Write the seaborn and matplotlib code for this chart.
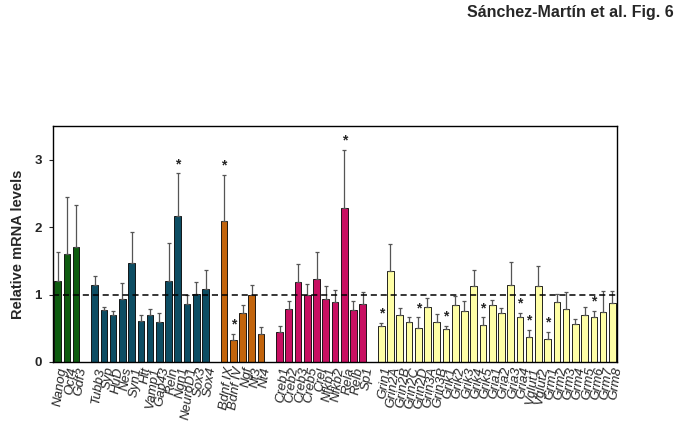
import matplotlib
matplotlib.use("Agg")
import matplotlib.pyplot as plt
import seaborn as sns
import pandas as pd
import numpy as np

sns.set_style("ticks")
plt.rcParams['font.family'] = ['Liberation Sans', 'DejaVu Sans']

# ---- data ----
pluri_genes = ["Nanog", "Oct4", "Gdf3"]
pluri_vals = [1.20, 1.60, 1.70]
pluri_err = [0.43, 0.84, 0.63]
pluri_sig = [False, False, False]

neuro_genes = ["Tubb3", "Syp", "HuD", "Nes", "Syn1", "Htt", "Vamp1", "Gap43",
               "Reln", "Ngn1", "NeuroD1", "Sox3", "Sox4"]
neuro_vals = [1.14, 0.77, 0.70, 0.94, 1.47, 0.61, 0.70, 0.60, 1.20, 2.16, 0.86, 1.01, 1.09]
neuro_err = [0.13, 0.04, 0.06, 0.23, 0.46, 0.09, 0.09, 0.12, 0.56, 0.64, 0.13, 0.17, 0.28]
neuro_sig = [False]*9 + [True] + [False]*3

nt_genes = ["Bdnf IX", "Bdnf IV", "Ngf", "Nt3", "Nt4"]
nt_vals = [2.09, 0.32, 0.73, 1.00, 0.41]
nt_err = [0.69, 0.10, 0.12, 0.14, 0.11]
nt_sig = [True, True, False, False, False]

tf_genes = ["Creb1", "Creb2", "Creb3", "Creb5", "Crel", "Nfkb1", "Nfkb2", "Rela", "Relb", "Sp1"]
tf_vals = [0.44, 0.79, 1.18, 1.00, 1.23, 0.93, 0.89, 2.29, 0.77, 0.86]
tf_err = [0.09, 0.12, 0.27, 0.16, 0.40, 0.20, 0.18, 0.86, 0.14, 0.18]
tf_sig = [False]*7 + [True] + [False]*2

glu_genes = ["Grin1", "Grin2A", "Grin2B", "Grin2C", "Grin2D", "Grin3A", "Grin3B",
             "Grik1", "Grik2", "Grik3", "Grik4", "Grik5",
             "Gria1", "Gria2", "Gria3", "Gria4", "Vglut1", "Vglut2",
             "Grm1", "Grm2", "Grm3", "Grm4", "Grm5", "Grm6", "Grm7", "Grm8"]
glu_vals = [0.53, 1.35, 0.70, 0.59, 0.50, 0.81, 0.60,
            0.49, 0.84, 0.76, 1.12, 0.55,
            0.84, 0.73, 1.14, 0.67, 0.37, 1.12,
            0.34, 0.89, 0.79, 0.56, 0.70, 0.67, 0.74, 0.88]
glu_err = [0.05, 0.40, 0.10, 0.08, 0.16, 0.14, 0.11,
           0.05, 0.14, 0.15, 0.24, 0.11,
           0.08, 0.07, 0.35, 0.06, 0.11, 0.31,
           0.11, 0.12, 0.25, 0.08, 0.12, 0.09, 0.32, 0.18]
glu_sig = [True, False, False, False, True, False, False,
           True, False, False, False, True,
           False, False, False, True, True, False,
           True, False, False, False, False, True, False, False]

groups = [
    ("pluri", pluri_genes, pluri_vals, pluri_err, pluri_sig, "#0e5c10"),
    ("neuro", neuro_genes, neuro_vals, neuro_err, neuro_sig, "#0d4d63"),
    ("nt", nt_genes, nt_vals, nt_err, nt_sig, "#c2640c"),
    ("tf", tf_genes, tf_vals, tf_err, tf_sig, "#c80f62"),
    ("glu", glu_genes, glu_vals, glu_err, glu_sig, "#ffffa6"),
]

rows = []
pos = 0
for gname, genes, vals, errs, sigs, col in groups:
    for g, v, e, s in zip(genes, vals, errs, sigs):
        rows.append(dict(gene=g, value=v, err=e, sig=s, group=gname, x=pos))
        pos += 1
    pos += 1
df = pd.DataFrame(rows)
palette = {g[0]: g[5] for g in groups}

fig = plt.figure(figsize=(6.83, 4.26), dpi=100)
ax = fig.add_axes([53/683, 1 - 362/426, (617-53)/683, (362-126)/426])

sns.barplot(data=df, x="x", y="value", hue="group", palette=palette, native_scale=True,
            dodge=False, width=0.72, edgecolor="black", linewidth=0.6, legend=False,
            errorbar=None, ax=ax, saturation=1)

ax.errorbar(df["x"], df["value"], yerr=[np.zeros(len(df)), df["err"]], fmt="none",
            ecolor="#555555", elinewidth=0.9, capsize=1.5, capthick=0.9, zorder=3)

for _, r in df.iterrows():
    if r["sig"]:
        ax.text(r["x"], r["value"] + r["err"] + 0.03, "*", ha="center", va="bottom",
                fontsize=10, fontweight="bold")

ax.axhline(1.0, color="black", linestyle=(0, (4, 2.5)), linewidth=1.1, zorder=4)

ax.set_xlim(-0.5, pos - 1.5)
ax.set_ylim(0, 3.5)
ax.set_yticks([0, 1, 2, 3])
ax.set_yticklabels(["0", "1", "2", "3"], fontsize=9.5, fontweight="bold")
ax.set_xticks(df["x"])
ax.set_xticklabels(df["gene"], rotation=82, ha="right", rotation_mode="anchor",
                   fontsize=9.5, fontstyle="italic")
ax.tick_params(axis="x", length=0, pad=3)
ax.tick_params(axis="y", length=3, width=0.8, pad=5)
ax.set_xlabel("")
ax.set_ylabel("Relative mRNA levels", fontsize=10.5, fontweight="bold", labelpad=7)
for sp in ax.spines.values():
    sp.set_visible(True)
    sp.set_linewidth(1.0)
    sp.set_color("black")

fig.text(674/683, 1 - 12/426, "Sánchez-Martín et al. Fig. 6", ha="right", va="center",
         fontsize=11.5, fontweight="bold")

fig.savefig("out.png", dpi=100)
